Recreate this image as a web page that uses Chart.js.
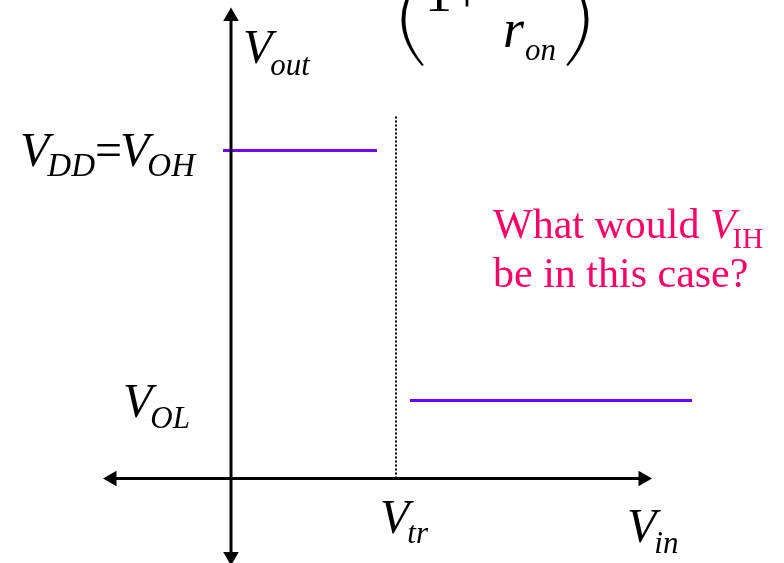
<!DOCTYPE html>
<html>
<head>
<meta charset="utf-8">
<script src="https://cdn.jsdelivr.net/npm/chart.js@4.4.1/dist/chart.umd.min.js"></script>
<style>
  html, body { margin: 0; padding: 0; background: #fff; }
  #wrap { width: 784px; height: 563px; position: relative; }
</style>
</head>
<body>
<div id="wrap"><canvas id="chart"></canvas></div>
<script>
// transfer characteristic values (arbitrary volts, origin at axis crossing)
const VOH = 3.28;          // V_DD = V_OH level
const VOL = 0.78;          // V_OL level
const VTR = 1.65;          // switching threshold V_tr
const highSpan = [-0.08, 1.46];   // V_in range of the high output segment
const lowSpan = [1.79, 4.61];     // V_in range of the low output segment
const dottedTop = 3.64;
// axis extents (arrowhead centres)
const xAxisEnds = [-1.19, 4.12];
const yAxisEnds = [-0.78, 4.62];

const purple = '#7000ff';
const pink = '#ff0066';
const serif = '"Liberation Serif", "Times New Roman", serif';

// draw a run of text pieces with subscripts
function drawRuns(ctx, x, y, runs, color) {
    ctx.fillStyle = color || '#000';
    ctx.textBaseline = 'alphabetic';
    ctx.textAlign = 'left';
    runs.forEach(function(r) {
        ctx.font = r[1];
        ctx.fillText(r[0], x, y + (r[2] || 0));
        x += ctx.measureText(r[0]).width + (r[3] || 0);
    });
}

// filled bracket shape, bulging by dir (-1 left, +1 right)
function paren(ctx, xEnd, yTop, yBot, ctrlOuter, ctrlInner, dir) {
    const yMid = (yTop + yBot) / 2;
    ctx.beginPath();
    ctx.moveTo(xEnd, yBot + 1);
    ctx.quadraticCurveTo(ctrlOuter, yMid, xEnd, yTop - 1);
    ctx.lineTo(xEnd - dir * 1.8, yTop);
    ctx.quadraticCurveTo(ctrlInner, yMid, xEnd - dir * 1.8, yBot);
    ctx.closePath();
    ctx.fill();
}

const big = 'italic 48px ' + serif;
const sub = 'italic 31px ' + serif;

const labelsPlugin = {
    id: 'labels',
    afterDraw(chart) {
        const ctx = chart.ctx;
        const xs = chart.scales.x;
        const ys = chart.scales.y;
        ctx.save();

        // partial formula at the top
        ctx.fillStyle = '#000';
        paren(ctx, 422, -26, 65, 381, 387, -1);
        paren(ctx, 568, -26, 65, 609, 603, 1);
        drawRuns(ctx, 425, 11, [['1', '54px ' + serif]]);
        ctx.font = '54px ' + serif;
        ctx.textAlign = 'center';
        ctx.fillText('+', 467, 12);
        drawRuns(ctx, 503, 47, [['r', 'italic 54px ' + serif, 0, 1], ['on', sub, 13]]);

        // axis labels
        drawRuns(ctx, xs.getPixelForValue(0) + 12, 63, [['V', big, 0, -2], ['out', sub, 12]]);
        drawRuns(ctx, 20, ys.getPixelForValue(VOH) + 15,
            [['V', big, 0, -2], ['DD', 'italic 33px ' + serif, 10], ['=', '48px ' + serif, 0, -2],
             ['V', big, 0, -2], ['OH', 'italic 33px ' + serif, 10]]);
        drawRuns(ctx, 123, ys.getPixelForValue(VOL) + 16, [['V', big, 0, -2], ['OL', sub, 11]]);
        drawRuns(ctx, xs.getPixelForValue(VTR) - 16, 533, [['V', big, 0, -2], ['tr', sub, 10]]);
        drawRuns(ctx, 627, 542, [['V', big, 0, -2], ['in', sub, 11]]);

        // question
        drawRuns(ctx, 493, 238, [['What would ', '42px ' + serif], ['V', 'italic 42px ' + serif, 0, -3], ['IH', '29px ' + serif, 10]], pink);
        drawRuns(ctx, 493, 287, [['be in this case?', '42px ' + serif]], pink);
        ctx.restore();
    }
};

new Chart(document.getElementById('chart'), {
    type: 'scatter',
    data: {
        datasets: [
            {
                // x axis with arrowheads
                data: [{ x: xAxisEnds[0], y: 0 }, { x: xAxisEnds[1], y: 0 }],
                showLine: true, borderColor: '#000', borderWidth: 3,
                pointStyle: 'triangle', pointRadius: 9, pointRotation: [-90, 90],
                backgroundColor: '#000', pointBorderWidth: 0
            },
            {
                // y axis with arrowheads
                data: [{ x: 0, y: yAxisEnds[0] }, { x: 0, y: yAxisEnds[1] }],
                showLine: true, borderColor: '#000', borderWidth: 3,
                pointStyle: 'triangle', pointRadius: 9, pointRotation: [180, 0],
                backgroundColor: '#000', pointBorderWidth: 0
            },
            {
                data: [{ x: VTR, y: 0 }, { x: VTR, y: dottedTop }],
                showLine: true, borderColor: '#000', borderWidth: 2,
                borderDash: [2, 2], pointRadius: 0
            },
            {
                data: [{ x: highSpan[0], y: VOH }, { x: highSpan[1], y: VOH }],
                showLine: true, borderColor: purple, borderWidth: 3, pointRadius: 0
            },
            {
                data: [{ x: lowSpan[0], y: VOL }, { x: lowSpan[1], y: VOL }],
                showLine: true, borderColor: purple, borderWidth: 3, pointRadius: 0
            }
        ]
    },
    options: {
        responsive: true,
        maintainAspectRatio: false,
        animation: false,
        layout: { padding: 0, autoPadding: false },
        plugins: { legend: { display: false }, tooltip: { enabled: false } },
        scales: {
            x: { type: 'linear', display: false, min: -2.31, max: 5.53 },
            y: { type: 'linear', display: false, min: -0.845, max: 4.785 }
        }
    },
    plugins: [labelsPlugin]
});
</script>
</body>
</html>
